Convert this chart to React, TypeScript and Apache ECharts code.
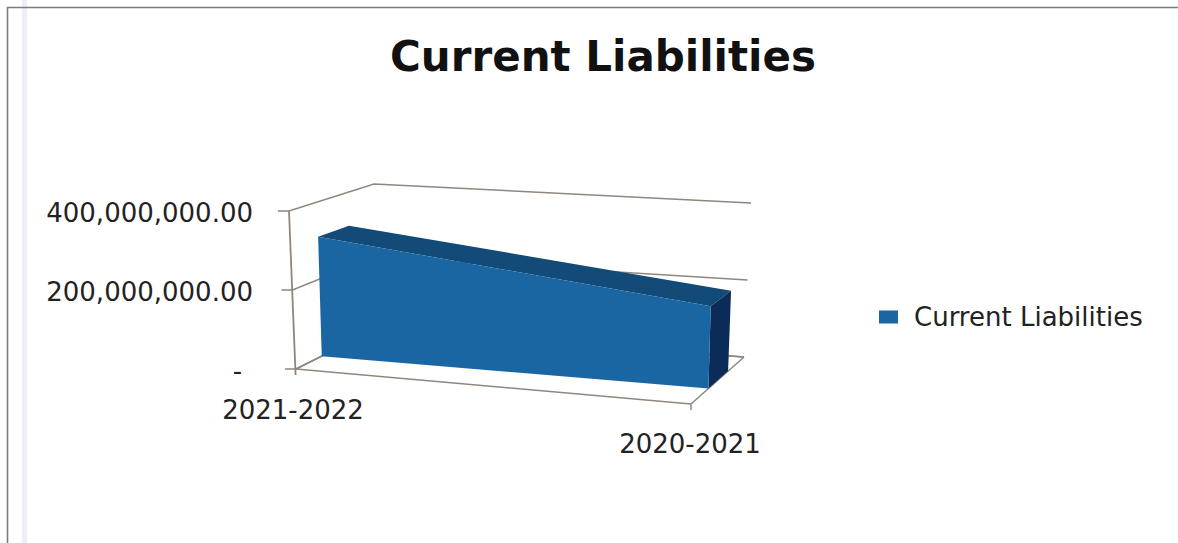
import React, { useEffect, useRef } from "react";
import * as echarts from "echarts";

// Chart content
const chartTitle = "Current Liabilities";
const seriesName = "Current Liabilities";
const categories = ["2021-2022", "2020-2021"];
const currentLiabilities = [310000000, 205000000];
const yTicks = [0, 200000000, 400000000];
const yTickLabels = ["-\u00a0\u200a", "200,000,000.00", "400,000,000.00"];

// Perspective box of the 3D plot: where the grid rectangle lands on the front and back planes
const frontBL = [296, 369];
const frontTL = [289, 211];
const frontBR = [691, 404];
const frontTR = [694, 240];
const backBL = [374, 330];
const backTL = [374, 184];
const backBR = [744, 357];
const backTR = [751, 203];
// Depth range occupied by the area slab
const slabNear = 0.33;
const slabFar = 0.7;

const FONT = '"DejaVu Sans", sans-serif';
const AXIS_COLOR = "#8f877d";
const FACE_FRONT = "#1a66a3";
const FACE_TOP = "#124a78";
const FACE_SIDE = "#0b2c58";

const mix = (a: number[], b: number[], t: number) => [a[0] + (b[0] - a[0]) * t, a[1] + (b[1] - a[1]) * t];

// Maps a pixel of the flat grid, at a depth between 0 and 1, onto the skewed 3D box
function project(pt: number[], rect: any, depth: number) {
  const u = (pt[0] - rect.x) / rect.width;
  const v = (rect.y + rect.height - pt[1]) / rect.height;
  const front = mix(mix(frontBL, frontBR, u), mix(frontTL, frontTR, u), v);
  const back = mix(mix(backBL, backBR, u), mix(backTL, backTR, u), v);
  return mix(front, back, depth);
}

const axisLine = (points: number[][], width = 1.5) => ({
  type: "polyline",
  shape: { points },
  style: { fill: "none", stroke: AXIS_COLOR, lineWidth: width },
});

// Walls: one gridline per y tick, running from its tick mark along the left wall and the back wall
function renderGridline(params: any, api: any) {
  const rect = params.coordSys;
  const value = api.value(1);
  const left = api.coord([0, value]);
  const right = api.coord([categories.length - 1, value]);
  const a = project(left, rect, 0);
  const b = project(left, rect, 1);
  const c = project(right, rect, 1);
  return {
    type: "group",
    children: [axisLine([[a[0] - 11, a[1]], a, b, c])],
  };
}

// Floor front edge and the vertical axis, drawn once per category with its label and tick
function renderCategory(params: any, api: any) {
  const rect = params.coordSys;
  const i = params.dataIndex;
  const pos = api.coord([i, 0]);
  const a = project(pos, rect, 0);
  const children: any[] = [
    {
      type: "text",
      style: {
        text: categories[i],
        x: a[0] + (i === 0 ? -3 : -1),
        y: a[1] + (i === 0 ? 41 : 40),
        align: "center",
        verticalAlign: "middle",
        fill: "#222222",
        font: `26px ${FONT}`,
      },
    },
  ];
  if (i === 0) {
    const top = project(api.coord([0, yTicks[yTicks.length - 1]]), rect, 0);
    const next = project(api.coord([1, 0]), rect, 0);
    const last = project(api.coord([1, 0]), rect, 1);
    const nearBack = project(pos, rect, 1);
    children.push(axisLine([top, [a[0] - 0.4, a[1] + 6]], 1.8));
    children.push(axisLine([a, next]));
    children.push(axisLine([nearBack, a]));
    children.push(axisLine([nearBack, last]));
  } else {
    const back = project(pos, rect, 1);
    children.push(axisLine([a, back]));
    children.push(axisLine([a, [a[0], a[1] + 6]]));
  }
  return { type: "group", children };
}

// The area as a solid slab: top, end and front faces between two neighbouring categories
function renderSlab(params: any, api: any) {
  const i = params.dataIndex;
  if (i >= currentLiabilities.length - 1) return { type: "group", children: [] };
  const rect = params.coordSys;
  const topA = api.coord([i, currentLiabilities[i]]);
  const topB = api.coord([i + 1, currentLiabilities[i + 1]]);
  const baseA = api.coord([i, 0]);
  const baseB = api.coord([i + 1, 0]);
  const n = (p: number[]) => project(p, rect, slabNear);
  const f = (p: number[]) => project(p, rect, slabFar);
  const face = (points: number[][], fill: string) => ({ type: "polygon", shape: { points }, style: { fill } });
  return {
    type: "group",
    children: [
      face([n(topA), f(topA), f(topB), n(topB)], FACE_TOP),
      face([n(topB), f(topB), f(baseB), n(baseB)], FACE_SIDE),
      face([n(topA), n(topB), n(baseB), n(baseA)], FACE_FRONT),
    ],
  };
}

export default function App() {
  const ref = useRef<HTMLDivElement>(null);

  useEffect(() => {
    document.body.style.margin = "0";
    const chart = echarts.init(ref.current!, undefined, { renderer: "svg" });
    chart.setOption({
      animation: false,
      backgroundColor: "#ffffff",
      title: {
        text: chartTitle,
        left: 598,
        top: 30,
        textAlign: "center",
        textStyle: { fontFamily: FONT, fontSize: 42, fontWeight: 700, color: "#111111" },
      },
      legend: {
        data: [{ name: seriesName, icon: "rect", itemStyle: { color: FACE_FRONT } }],
        left: 874,
        top: 299,
        itemWidth: 19,
        itemHeight: 13,
        itemGap: 0,
        selectedMode: false,
        textStyle: { fontFamily: FONT, fontSize: 26, color: "#222222", padding: [0, 0, 0, 11] },
      },
      grid: { left: 289, top: 213, width: 402, height: 158 },
      xAxis: { type: "category", data: categories, boundaryGap: false, show: false },
      yAxis: {
        type: "value",
        min: 0,
        max: 400000000,
        interval: 200000000,
        axisLine: { show: false },
        axisTick: { show: false },
        splitLine: { show: false },
        axisLabel: {
          margin: 36,
          fontFamily: FONT,
          fontSize: 26,
          color: "#222222",
          formatter: (v: number) => yTickLabels[yTicks.indexOf(v)],
        },
      },
      series: [
        {
          type: "custom",
          name: "Gridlines",
          coordinateSystem: "cartesian2d",
          data: yTicks.map((v) => [0, v]),
          encode: { x: 0, y: 1 },
          renderItem: renderGridline,
          silent: true,
          z: 1,
        },
        {
          type: "custom",
          name: "Categories",
          coordinateSystem: "cartesian2d",
          data: categories.map((_, i) => [i, 0]),
          encode: { x: 0, y: 1 },
          renderItem: renderCategory,
          silent: true,
          z: 2,
        },
        {
          type: "custom",
          name: seriesName,
          coordinateSystem: "cartesian2d",
          data: currentLiabilities.map((v, i) => [i, v]),
          encode: { x: 0, y: 1 },
          itemStyle: { color: FACE_FRONT },
          renderItem: renderSlab,
          silent: true,
          z: 3,
        },
      ],
      graphic: [
        { type: "rect", shape: { x: 22, y: 0, width: 5, height: 543 }, style: { fill: "#eeeef8" }, silent: true, z: 0 },
        {
          type: "polyline",
          shape: { points: [[7.5, 543], [7.5, 7.5], [1178, 7.5]] },
          style: { fill: "none", stroke: "#7d7d7d", lineWidth: 1.6 },
          silent: true,
          z: 0,
        },
      ],
    });
    return () => chart.dispose();
  }, []);

  return <div ref={ref} style={{ position: "fixed", left: 0, top: 0, width: 1178, height: 543 }} />;
}
